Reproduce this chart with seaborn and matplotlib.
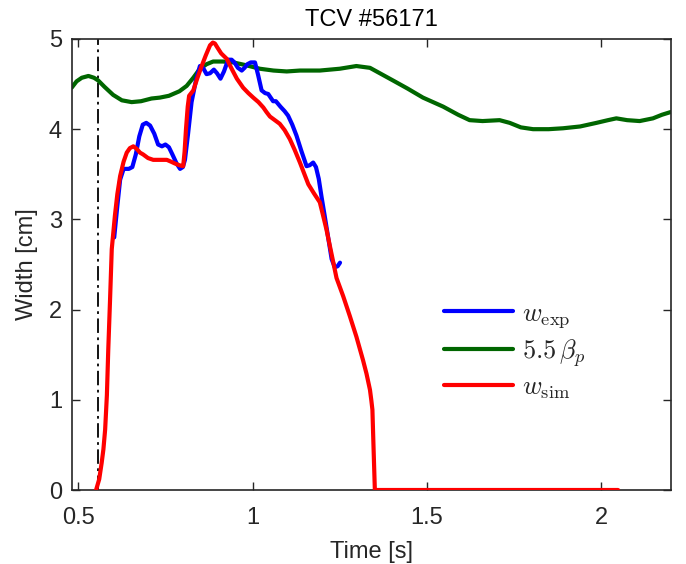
import numpy as np
import pandas as pd
import matplotlib
matplotlib.use("Agg")
import matplotlib.pyplot as plt
import seaborn as sns

# ---- data ----
t_exp = [0.603, 0.612, 0.620, 0.630, 0.645, 0.655, 0.665, 0.675, 0.685, 0.695, 0.706, 0.718, 0.729,
         0.740, 0.750, 0.760, 0.770, 0.782, 0.792, 0.800, 0.806, 0.815, 0.825, 0.838, 0.849, 0.858,
         0.868, 0.878, 0.889, 0.898, 0.908, 0.918, 0.930, 0.940, 0.948, 0.958, 0.969, 0.977, 0.985,
         0.995, 1.007, 1.016, 1.026, 1.036, 1.045, 1.052, 1.059, 1.067, 1.080, 1.092, 1.102, 1.114,
         1.126, 1.140, 1.155, 1.164, 1.174, 1.182, 1.190, 1.198, 1.207, 1.217, 1.227, 1.236, 1.244, 1.251]
w_exp = [2.80, 3.15, 3.44, 3.56, 3.56, 3.58, 3.72, 3.92, 4.05, 4.07, 4.04, 3.95, 3.83, 3.81, 3.83,
         3.80, 3.72, 3.62, 3.56, 3.58, 3.66, 3.95, 4.30, 4.55, 4.70, 4.68, 4.61, 4.62, 4.66, 4.62,
         4.56, 4.64, 4.77, 4.77, 4.74, 4.68, 4.65, 4.68, 4.72, 4.74, 4.74, 4.60, 4.43, 4.40, 4.39,
         4.35, 4.31, 4.31, 4.25, 4.20, 4.15, 4.05, 3.93, 3.76, 3.59, 3.60, 3.63, 3.58, 3.45, 3.25,
         3.04, 2.80, 2.56, 2.47, 2.48, 2.52]

t_beta = [0.481, 0.495, 0.510, 0.529, 0.545, 0.557, 0.575, 0.600, 0.625, 0.653, 0.680, 0.710, 0.734,
          0.760, 0.772, 0.790, 0.811, 0.830, 0.849, 0.868, 0.887, 0.915, 0.945, 0.980, 1.021, 1.060,
          1.098, 1.136, 1.193, 1.250, 1.298, 1.337, 1.370, 1.403, 1.445, 1.489, 1.547, 1.590, 1.623,
          1.660, 1.709, 1.738, 1.770, 1.805, 1.850, 1.891, 1.940, 1.987, 2.020, 2.044, 2.075, 2.111,
          2.149, 2.175, 2.200]
beta_p55 = [4.46, 4.53, 4.57, 4.59, 4.57, 4.54, 4.47, 4.38, 4.32, 4.30, 4.31, 4.34, 4.35, 4.37,
            4.39, 4.42, 4.48, 4.57, 4.67, 4.72, 4.75, 4.75, 4.74, 4.71, 4.67, 4.65, 4.64, 4.65,
            4.65, 4.67, 4.70, 4.68, 4.61, 4.54, 4.45, 4.35, 4.25, 4.16, 4.10, 4.09, 4.10, 4.07,
            4.02, 4.00, 4.00, 4.01, 4.03, 4.07, 4.10, 4.12, 4.10, 4.09, 4.12, 4.16, 4.19]

t_sim = [0.551, 0.560, 0.567, 0.572, 0.577, 0.582, 0.586, 0.591, 0.596, 0.605, 0.612, 0.620, 0.630,
         0.639, 0.648, 0.658, 0.668, 0.677, 0.686, 0.700, 0.715, 0.735, 0.754, 0.766, 0.777, 0.790,
         0.801, 0.805, 0.809, 0.814, 0.818, 0.824, 0.830, 0.842, 0.854, 0.866, 0.878, 0.886, 0.892,
         0.900, 0.910, 0.926, 0.940, 0.955, 0.973, 0.988, 1.002, 1.017, 1.031, 1.040, 1.050, 1.064,
         1.078, 1.092, 1.107, 1.121, 1.136, 1.148, 1.160, 1.176, 1.193, 1.202, 1.212, 1.226, 1.241,
         1.260, 1.279, 1.298, 1.317, 1.327, 1.337, 1.341, 1.344, 1.347, 1.351, 1.400, 1.600, 1.800, 2.049]
w_sim = [0.0, 0.12, 0.30, 0.45, 0.67, 1.05, 1.56, 2.10, 2.67, 3.04, 3.28, 3.48, 3.64, 3.74, 3.79,
         3.81, 3.78, 3.74, 3.72, 3.68, 3.66, 3.66, 3.66, 3.64, 3.62, 3.60, 3.59, 3.75, 4.00, 4.25,
         4.37, 4.40, 4.43, 4.57, 4.70, 4.82, 4.93, 4.96, 4.95, 4.90, 4.84, 4.78, 4.67, 4.56, 4.46,
         4.40, 4.35, 4.30, 4.24, 4.19, 4.14, 4.10, 4.06, 3.99, 3.89, 3.77, 3.63, 3.51, 3.39, 3.29,
         3.19, 3.05, 2.89, 2.63, 2.35, 2.15, 1.93, 1.70, 1.44, 1.29, 1.11, 0.99, 0.89, 0.50, 0.0,
         0.0, 0.0, 0.0, 0.0]

t_start = 0.557
labels = [r"$w_{\rm exp}$", r"$5.5\,\beta_p$", r"$w_{\rm sim}$"]
title = "TCV #56171"
xticks = [0.5, 1, 1.5, 2]
xticklabels = ["0.5", "1", "1.5", "2"]
yticks = [0, 1, 2, 3, 4, 5]

# ---- style ----
sns.set_theme(style="ticks")
plt.rcParams["font.family"] = ["Liberation Sans", "DejaVu Sans"]
plt.rcParams["mathtext.fontset"] = "cm"
axcol = "#262626"

fig = plt.figure(figsize=(6.86, 5.64), dpi=100)
ax = fig.add_axes([0.1045, 0.1312, 0.9777 - 0.1045, 0.9309 - 0.1312])

df_exp = pd.DataFrame({"t": t_exp, "w": w_exp})
df_beta = pd.DataFrame({"t": t_beta, "w": beta_p55})
df_sim = pd.DataFrame({"t": t_sim, "w": w_sim})

lw = 3.0
sns.lineplot(data=df_exp, x="t", y="w", ax=ax, color=(0, 0, 1), lw=lw, sort=False,
             estimator=None, label=labels[0], zorder=3)
sns.lineplot(data=df_beta, x="t", y="w", ax=ax, color=(0, 0.4, 0), lw=lw, sort=False,
             estimator=None, label=labels[1], zorder=2)
sns.lineplot(data=df_sim, x="t", y="w", ax=ax, color=(1, 0, 0), lw=lw, sort=False,
             estimator=None, label=labels[2], zorder=4)
ax.axvline(t_start, color="black", lw=1.3, ls=(0, (8, 2.5, 1.5, 2.5)), zorder=1)

ax.set_xlim(0.481, 2.2)
ax.set_ylim(0, 5)
ax.set_xticks(xticks)
ax.set_xticklabels(xticklabels)
ax.set_yticks(yticks)

fs = 17
ax.set_title(title, fontsize=fs, color="black", pad=9)
ax.set_xlabel("Time [s]", fontsize=fs, color=axcol, labelpad=9)
ax.set_ylabel("Width [cm]", fontsize=fs, color=axcol, labelpad=8)
ax.tick_params(direction="in", length=6, width=1.0, colors=axcol, labelsize=fs,
               top=True, right=True)
ax.tick_params(axis="x", pad=12)
ax.tick_params(axis="y", pad=7)
for s in ax.spines.values():
    s.set_visible(True)
    s.set_color(axcol)
    s.set_linewidth(1.2)

leg = ax.legend(loc="upper left", bbox_to_anchor=(0.622, 0.418), frameon=False, fontsize=19,
                handlelength=2.6, handletextpad=0.35, labelspacing=0.25, borderpad=0,
                borderaxespad=0)
for line in leg.get_lines():
    line.set_linewidth(3.0)

fig.savefig("out.png", dpi=100)
